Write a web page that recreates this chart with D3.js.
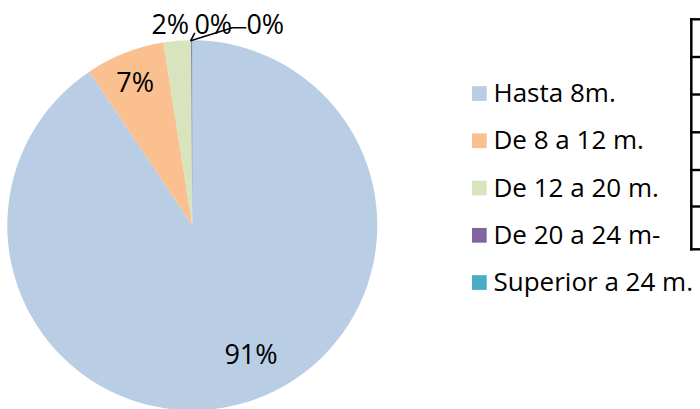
<!DOCTYPE html>
<html>
<head>
<meta charset="utf-8">
<script src="https://cdn.jsdelivr.net/npm/d3@7"></script>
<style>
  html, body { margin: 0; padding: 0; background: #fff; }
  svg { display: block; }
  text { font-family: "Open Sans", "DejaVu Sans", sans-serif; fill: #000; }
</style>
</head>
<body>
<svg id="chart" width="700" height="409"></svg>
<script>
// ---- data ----
const categories = ["Hasta 8m.", "De 8 a 12 m.", "De 12 a 20 m.", "De 20 a 24 m-", "Superior a 24 m."];
const values = [90.6, 6.9, 2.4, 0.08, 0.02];
const labels = ["91%", "7%", "2%", "0%", "0%"];
const colors = ["#B9CDE5", "#FAC090", "#D7E4BD", "#8064A2", "#4BACC6"];

// ---- layout ----
const W = 700, H = 409;
const cx = 192.3, cy = 225.3, R = 185;
const svg = d3.select("#chart");

const pie = d3.pie().sort(null).value(d => d).startAngle(0).endAngle(2 * Math.PI);
const arcs = pie(values);
const arc = d3.arc().innerRadius(0).outerRadius(R);

const g = svg.append("g").attr("transform", `translate(${cx},${cy})`);
g.selectAll("path.slice")
  .data(arcs)
  .enter().append("path")
  .attr("class", "slice")
  .attr("d", arc)
  .attr("fill", (d, i) => colors[i]);

// label placement: inside labels at centroid-based positions, outside labels along the top
const labelArc = d3.arc().innerRadius(0).outerRadius(R * 1.66);
const labelOffsets = [[14, -8.5], [-1, 9.5], null, null, null];
const outsidePos = [null, null, [-22, -191.3], [21, -191.3], [73, -191.3]];
const labelFont = 27;

arcs.forEach((d, i) => {
  let x, y;
  if (labelOffsets[i]) {
    const c = labelArc.centroid(d);
    x = c[0] + labelOffsets[i][0];
    y = c[1] + labelOffsets[i][1];
  } else {
    x = outsidePos[i][0];
    y = outsidePos[i][1];
  }
  g.append("text")
    .attr("x", x)
    .attr("y", y)
    .attr("text-anchor", "middle")
    .attr("font-size", labelFont)
    .text(labels[i]);
});

// leader lines for the tiny slices
const tip = d3.arc().innerRadius(R).outerRadius(R).centroid(arcs[3]);
const leader = d3.line();
g.append("path")
  .attr("d", leader([[54, -197.5], [40, -197.5], [tip[0] - 1, -R + 0.5]]))
  .attr("fill", "none").attr("stroke", "#000").attr("stroke-width", 1.6);
g.append("path")
  .attr("d", leader([[2.5, -192.5], [tip[0] - 1, -R + 0.5]]))
  .attr("fill", "none").attr("stroke", "#000").attr("stroke-width", 1.6);

// ---- legend ----
const legend = svg.append("g").attr("transform", "translate(472,0)");
const ly = d3.scalePoint().domain(categories).range([93.5, 282.5]);
const items = legend.selectAll("g.item").data(categories).enter().append("g")
  .attr("class", "item")
  .attr("transform", d => `translate(0,${ly(d)})`);
items.append("rect")
  .attr("x", 0).attr("y", -7.3).attr("width", 14.7).attr("height", 14.7)
  .attr("fill", (d, i) => colors[i]);
items.append("text")
  .attr("x", 21.5).attr("y", 8.6)
  .attr("font-size", 26)
  .text(d => d);

// ---- partial table at right edge ----
const tableRows = [19.3, 57, 94.5, 132.3, 170, 206.5, 249.3];
const tbl = svg.append("g");
tbl.append("line")
  .attr("x1", 691.3).attr("x2", 691.3)
  .attr("y1", tableRows[0] - 1.2).attr("y2", tableRows[tableRows.length - 1] + 1.2)
  .attr("stroke", "#000").attr("stroke-width", 2.5);
tbl.selectAll("line.row").data(tableRows).enter().append("line")
  .attr("class", "row")
  .attr("x1", 690).attr("x2", 700)
  .attr("y1", d => d).attr("y2", d => d)
  .attr("stroke", "#000").attr("stroke-width", 2.4);
</script>
</body>
</html>
